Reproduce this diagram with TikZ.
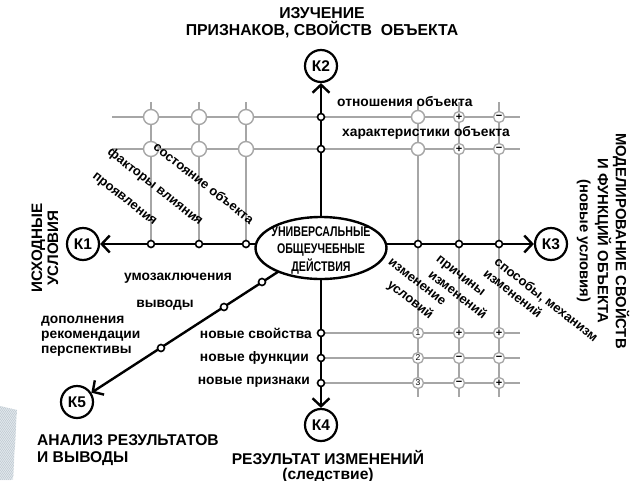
\documentclass[tikz,border=0pt]{standalone}
\usepackage{fontspec}
\setmainfont{Liberation Sans}
\newfontfamily\narrowfont[FakeStretch=0.76]{Liberation Sans}
\usetikzlibrary{arrows.meta,shapes.geometric}
\definecolor{gridgray}{HTML}{A6A6A6}
\definecolor{decofill}{HTML}{E4EAEE}
\definecolor{decoline}{HTML}{B9C4CC}
\begin{document}
\begin{tikzpicture}[x=1pt,y=-1pt,
  axis/.style={line width=2.4pt, black},
  axisarrow/.style={axis, -{Straight Barb[length=8pt,width=17pt]}},
  gridline/.style={line width=1.4pt, gridgray},
  kcirc/.style={circle, draw, line width=2.2pt, minimum size=32pt, inner sep=0pt, fill=white, font=\fontsize{15.5}{15.5}\selectfont\bfseries},
  bigo/.style={circle, draw=gridgray, line width=1.4pt, fill=white, minimum size=15pt, inner sep=0pt},
  mido/.style={circle, draw=gridgray, line width=1.4pt, fill=white, minimum size=13pt, inner sep=0pt},
  smallo/.style={circle, draw=gridgray, line width=1.3pt, fill=white, minimum size=11pt, inner sep=0pt, font=\fontsize{11}{11}\selectfont\bfseries},
  numo/.style={smallo, font=\fontsize{8.5}{8.5}\selectfont},
  dot/.style={circle, draw, line width=1.6pt, fill=white, minimum size=7pt, inner sep=0pt},
  lbl/.style={font=\fontsize{13.8}{14}\selectfont\bfseries, inner sep=0pt},
  rlbl/.style={lbl, font=\fontsize{13}{13}\selectfont\bfseries, rotate=-38},
  title/.style={font=\fontsize{15.6}{17}\selectfont\bfseries, align=center, inner sep=0pt},
]
\useasboundingbox (0,0) rectangle (640,480);
\fill[white] (0,0) rectangle (640,480);

% decoration bottom-left
\begin{scope}
  \clip (0,406) -- (17,410) -- (13,480) -- (0,480) -- cycle;
  \fill[decofill] (0,400) rectangle (20,480);
  \foreach \i in {0,...,30} {
    \draw[decoline, line width=0.5pt] (-10,420+3*\i) -- (30,420+3*\i-60);
  }
\end{scope}

% K nodes
\node[kcirc] (K1) at (83,244) {К1};
\node[kcirc] (K2) at (321,66) {К2};
\node[kcirc] (K3) at (551,244) {К3};
\node[kcirc] (K4) at (321,425) {К4};
\node[kcirc] (K5) at (77,402) {К5};

% grid lines
\coordinate (gl1) at (112,117); \coordinate (gr1) at (520,117);
\coordinate (gl2) at (112,149); \coordinate (gr2) at (520,149);
\draw[gridline] (gl1) -- (gr1);
\draw[gridline] (gl2) -- (gr2);
\foreach \x in {151,199,246} {
  \draw[gridline] (\x,102) -- (\x,244);
}
\foreach \x in {418,459,499} {
  \draw[gridline] (\x,102) -- (\x,397);
}
\foreach \y in {333,358,383} {
  \draw[gridline] (321,\y) -- (520,\y);
}

% axes
\coordinate (c) at (321,244);
\draw[axisarrow] (c) -- (K1);
\draw[axisarrow] (c) -- (K2);
\draw[axisarrow] (c) -- (K3);
\draw[axisarrow] (c) -- (K4);
\draw[axisarrow] (c) -- (K5);

% grid circles top-left
\foreach \x [count=\i] in {151,199,246} {
  \node[bigo] (ta\i) at (\x,117) {};
  \node[bigo] (tb\i) at (\x,149) {};
}
% grid circles top-right
\node[mido] (tra1) at (418,117) {};
\node[smallo] (tra2) at (459,117) {+};
\node[smallo] (tra3) at (499,117) {−};
\node[mido] (trb1) at (418,149) {};
\node[smallo] (trb2) at (459,149) {+};
\node[smallo] (trb3) at (499,149) {−};
% grid circles bottom-right
\node[numo] (ba1) at (418,333) {1};
\node[smallo] (ba2) at (459,333) {+};
\node[smallo] (ba3) at (499,333) {+};
\node[numo] (bb1) at (418,358) {2};
\node[smallo] (bb2) at (459,358) {−};
\node[smallo] (bb3) at (499,358) {−};
\node[numo] (bc1) at (418,383) {3};
\node[smallo] (bc2) at (459,383) {−};
\node[smallo] (bc3) at (499,383) {+};

% dots on axes
\node[dot] (d21) at (321,117) {};
\node[dot] (d22) at (321,149) {};
\node[dot] (d11) at (151,244) {};
\node[dot] (d12) at (199,244) {};
\node[dot] (d13) at (246,244) {};
\node[dot] (d31) at (418,244) {};
\node[dot] (d32) at (459,244) {};
\node[dot] (d33) at (499,244) {};
\node[dot] (d41) at (321,333) {};
\node[dot] (d42) at (321,358) {};
\node[dot] (d43) at (321,383) {};
\node[dot] (d51) at (262,282) {};
\node[dot] (d52) at (224,307) {};
\node[dot] (d53) at (161,348) {};

% central ellipse
\node[ellipse, draw, line width=2.4pt, fill=white, minimum width=131pt, minimum height=62pt, inner sep=0pt] (ell) at (321,248) {};
\node[font=\narrowfont\bfseries\fontsize{14}{17.5}\selectfont, align=center, inner sep=0pt] (elltext) at (321,250.5) {УНИВЕРСАЛЬНЫЕ\\ОБЩЕУЧЕБНЫЕ\\ДЕЙСТВИЯ};

% labels K2 axis
\node[lbl, anchor=west] (l21) at (337,102) {отношения объекта};
\node[lbl, anchor=west] (l22) at (342,133) {характеристики объекта};
% labels K1 axis
\node[rlbl] (l11) at (204,183) {состояние объекта};
\node[rlbl] (l12) at (155,187) {факторы влияния};
\node[rlbl] (l13) at (124,200) {проявления};
% labels K3 axis
\node[rlbl] (l31a) at (417,282) {изменение};
\node[rlbl] (l31b) at (410,300) {условий};
\node[rlbl] (l32a) at (460,277) {причины};
\node[rlbl] (l32b) at (458,294) {изменений};
\node[rlbl] (l33a) at (546,300) {способы, механизм};
\node[rlbl] (l33b) at (513,293) {изменений};
% labels K5 axis
\node[lbl] (l51) at (178,278) {умозаключения};
\node[lbl] (l52) at (165,305) {выводы};
\node[lbl, align=left, anchor=west, font=\fontsize{13.8}{15}\selectfont\bfseries] (l53) at (41,336) {дополнения\\рекомендации\\перспективы};
% labels K4 axis
\node[lbl, anchor=east] (l41) at (312,333) {новые свойства};
\node[lbl, anchor=east] (l42) at (309,358) {новые функции};
\node[lbl, anchor=east] (l43) at (310,382) {новые признаки};

% titles
\node[title, font=\fontsize{15.8}{17}\selectfont\bfseries] (t2) at (322,22.5) {ИЗУЧЕНИЕ\\ПРИЗНАКОВ, СВОЙСТВ\ \ ОБЪЕКТА};
\node[title, rotate=90, font=\fontsize{15.2}{16}\selectfont\bfseries] (t1) at (45,248) {ИСХОДНЫЕ\\УСЛОВИЯ};
\node[title, rotate=-90, font=\fontsize{14.8}{18}\selectfont\bfseries] (t3) at (603,241) {МОДЕЛИРОВАНИЕ СВОЙСТВ\\И ФУНКЦИЙ ОБЪЕКТА\\(новые условия)};
\node[title, align=left, anchor=west] (t5) at (37,450.5) {АНАЛИЗ РЕЗУЛЬТАТОВ\\И ВЫВОДЫ};
\node[title, font=\fontsize{15.6}{15}\selectfont\bfseries] (t4) at (328,467) {РЕЗУЛЬТАТ ИЗМЕНЕНИЙ\\(следствие)};
\end{tikzpicture}
\end{document}
